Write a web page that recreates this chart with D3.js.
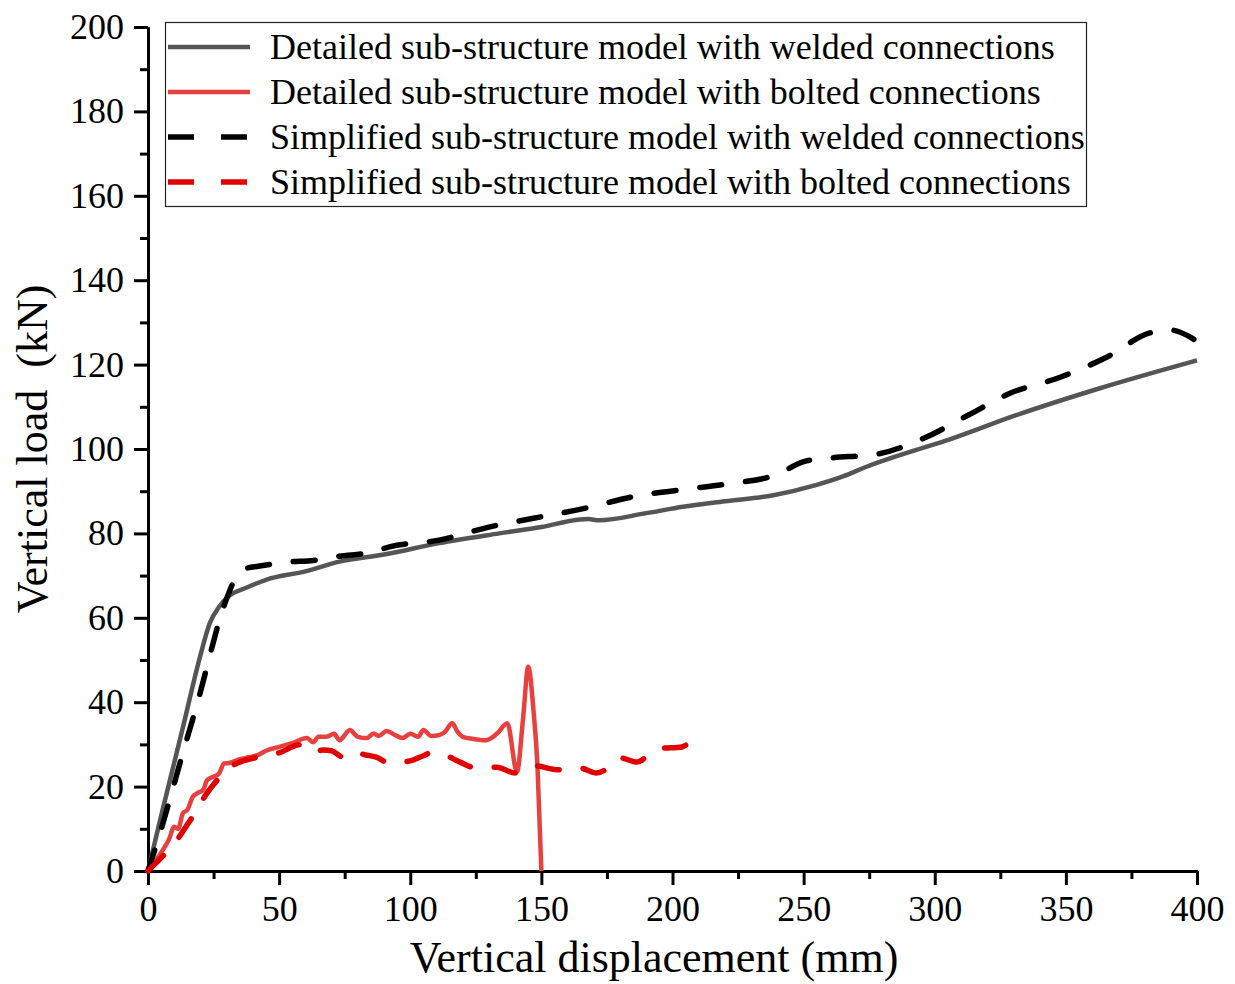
<!DOCTYPE html>
<html>
<head>
<meta charset="utf-8">
<script src="https://cdn.jsdelivr.net/npm/d3@7"></script>
<style>
  body { margin: 0; background: #fff; }
  svg { display: block; font-family: "Liberation Serif", "Times New Roman", serif; }
</style>
</head>
<body>
<svg id="chart"></svg>
<script>
// series (displacement in mm, load in kN)
const detWeldX = [0, 4.6, 13.3, 19.8, 23.6, 27, 30.9, 37, 45, 60, 73, 90, 111, 134, 150, 164.7, 168, 172, 190, 204, 220, 238, 255, 265, 274, 293, 305.8, 331, 363, 400];
const detWeldY = [0, 12, 34, 50.7, 58.8, 62.5, 65.2, 67, 69, 71, 73.3, 75, 77.7, 80, 81.5, 83.3, 83.4, 83.1, 84.8, 86.3, 87.6, 89, 91.5, 93.5, 95.8, 99.8, 102.3, 108, 114.4, 121];

const simWeldX = [0, 4.6, 13.3, 19.8, 24.4, 27.5, 30.5, 33, 35, 38, 42, 53, 63, 73, 85, 92, 111, 130, 147, 167, 185, 205.5, 220.7, 240, 250, 259, 278, 296, 312.7, 328.7, 347.8, 365.7, 382, 389.7, 396.6, 400];
const simWeldY = [0, 9, 28, 42, 53, 60, 65.4, 69, 70.6, 71.8, 72.2, 73.2, 73.6, 74.6, 75.5, 76.8, 78.4, 81.5, 83.6, 86, 88.7, 90.5, 91.7, 94, 97, 97.8, 98.8, 102.6, 108, 113.2, 117, 121.8, 127.5, 128.2, 126.8, 125.5];

const detBoltX = [0, 3, 5.7, 8, 10, 11.5, 13.3, 15, 17, 19, 21, 22.5, 24.8, 27, 29, 31, 35, 38.9, 42, 45, 50, 55, 60.6, 63, 65, 68, 71, 73, 77, 80, 83.5, 86, 88, 91, 94, 97, 100, 103, 105, 108, 111, 113, 116, 118, 120, 124, 129, 133, 137, 140.7, 143, 145, 147, 148.5, 150];
const detBoltY = [0, 2.5, 5, 7.5, 10.5, 10, 13.7, 14.5, 17.5, 18.5, 19.2, 21.5, 22.3, 23, 25.5, 25.6, 26.5, 27, 27.5, 28.5, 29.4, 30.3, 31.5, 30.5, 31.8, 31.8, 32.5, 31, 33.4, 31.8, 31.5, 32.6, 32, 33.2, 32.3, 31.5, 32.5, 31.8, 33.4, 32, 32.2, 32.8, 35, 33, 31.8, 31.3, 31, 32.5, 35, 23.5, 36, 48.4, 38, 25, 0];

const simBoltX = [0, 4, 8, 11, 15, 18.7, 22, 25, 27.5, 31, 35, 42, 50, 58, 60, 63, 66.7, 70, 74.4, 78, 83, 87, 92, 96, 101, 105, 108.7, 112, 119, 124, 133, 140, 144, 148, 156, 160, 164.7, 171, 175, 180, 186.5, 190, 195, 203.6, 205];
const simBoltY = [0, 2.5, 5, 7.3, 11, 14.5, 18, 20.5, 22.3, 24.5, 25.8, 27, 28, 29.9, 29.2, 28, 28.7, 28.5, 27, 28.2, 27.5, 27, 25.6, 25.7, 26.3, 27.3, 28.2, 27.8, 25.8, 24.6, 24.6, 23.2, 24.5, 24.9, 24, 24.2, 24.4, 23.2, 24.2, 26.8, 25.8, 27, 29, 29.4, 29.8];

const seriesNames = [
  "Detailed sub-structure model with welded connections",
  "Detailed sub-structure model with bolted connections",
  "Simplified sub-structure model with welded connections",
  "Simplified sub-structure model with bolted connections"
];
const xTicks = [0, 50, 100, 150, 200, 250, 300, 350, 400];
const yTicks = [0, 20, 40, 60, 80, 100, 120, 140, 160, 180, 200];

const width = 1235, height = 984;
const plot = { left: 148, right: 1197, top: 27, bottom: 871 };

const svg = d3.select("#chart").attr("width", width).attr("height", height);

const x = d3.scaleLinear().domain([0, 400]).range([plot.left, plot.right]);
const y = d3.scaleLinear().domain([0, 200]).range([plot.bottom, plot.top]);

const zip = (xs, ys) => xs.map((v, i) => [v, ys[i]]);

const series = [
  { name: seriesNames[0], data: zip(detWeldX, detWeldY), color: "#555555", dash: null, w: 4.5 },
  { name: seriesNames[1], data: zip(detBoltX, detBoltY), color: "#e8403f", dash: null, w: 4.5 },
  { name: seriesNames[2], data: zip(simWeldX, simWeldY), color: "#000000", dash: "22,24", w: 5.5 },
  { name: seriesNames[3], data: zip(simBoltX, simBoltY), color: "#e00000", dash: "22,24", w: 5.5 }
];

// axes: ticks outward, minor ticks in between
const xAxis = d3.axisBottom(x).tickValues(xTicks).tickSize(14).tickPadding(10).tickSizeOuter(0);
const xMinor = d3.axisBottom(x).tickValues(d3.range(25, 400, 50)).tickSize(8).tickFormat("").tickSizeOuter(0);
const yAxis = d3.axisLeft(y).tickValues(yTicks).tickSize(14).tickPadding(10).tickSizeOuter(0);
const yMinor = d3.axisLeft(y).tickValues(d3.range(10, 200, 20)).tickSize(8).tickFormat("").tickSizeOuter(0);

function styleAxis(g) {
  g.attr("font-family", null);
  g.select(".domain").attr("stroke", "#000").attr("stroke-width", 3);
  g.selectAll(".tick line").attr("stroke", "#000").attr("stroke-width", 3);
  g.selectAll(".tick text").attr("fill", "#000").style("font-size", "36px")
    .style("font-family", "'Liberation Serif', 'Times New Roman', serif");
}

svg.append("g").attr("transform", `translate(0, ${plot.bottom})`).call(xMinor).call(styleAxis);
svg.append("g").attr("transform", `translate(0, ${plot.bottom})`).call(xAxis).call(styleAxis);
svg.append("g").attr("transform", `translate(${plot.left}, 0)`).call(yMinor).call(styleAxis);
svg.append("g").attr("transform", `translate(${plot.left}, 0)`).call(yAxis).call(styleAxis);

// curves
const line = d3.line().x(d => x(d[0])).y(d => y(d[1])).curve(d3.curveMonotoneX);

svg.append("g")
  .selectAll("path")
  .data(series)
  .enter()
  .append("path")
    .attr("d", d => line(d.data))
    .attr("fill", "none")
    .attr("stroke", d => d.color)
    .attr("stroke-width", d => d.w)
    .attr("stroke-dasharray", d => d.dash)
    .attr("stroke-linecap", d => d.dash ? "round" : "butt")
    .attr("stroke-linejoin", "round");

// legend
const legend = svg.append("g");
legend.append("rect")
  .attr("x", 165.5).attr("y", 22.5)
  .attr("width", 921).attr("height", 184)
  .attr("fill", "#fff").attr("stroke", "#222").attr("stroke-width", 1.2);

const rows = legend.selectAll("g.row")
  .data(series)
  .enter()
  .append("g")
    .attr("class", "row")
    .attr("transform", (d, i) => `translate(0, ${47 + i * 45})`);

rows.append("line")
  .attr("x1", 168).attr("x2", 250)
  .attr("stroke", d => d.color)
  .attr("stroke-width", d => d.w)
  .attr("stroke-dasharray", d => d.dash ? "26,27" : null);

rows.append("text")
  .attr("x", 270)
  .attr("dy", "0.33em")
  .style("font-size", "36px")
  .text(d => d.name);

// x axis label
svg.append("text")
  .attr("x", 654)
  .attr("y", 972)
  .style("text-anchor", "middle")
  .style("font-size", "44px")
  .text("Vertical displacement (mm)");

// y axis label
svg.append("text")
  .attr("transform", "rotate(-90)")
  .attr("x", -449)
  .attr("y", 47)
  .style("text-anchor", "middle")
  .style("font-size", "44px")
  .style("white-space", "pre")
  .text("Vertical load  (kN)");
</script>
</body>
</html>
